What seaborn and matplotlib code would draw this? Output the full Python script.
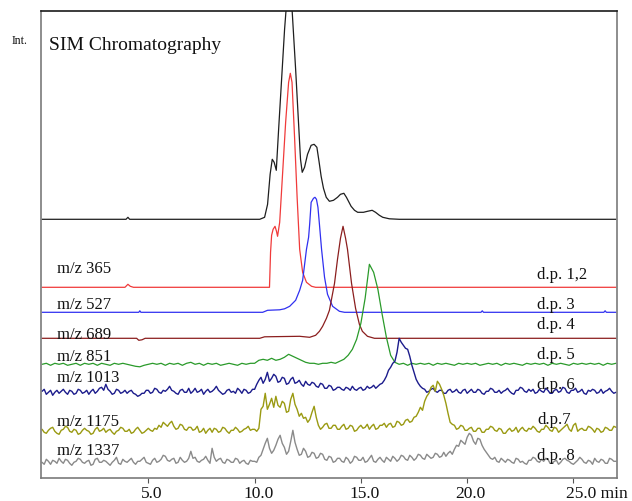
import numpy as np
import matplotlib
matplotlib.use("Agg")
import matplotlib.pyplot as plt
import matplotlib.transforms as mtransforms
import seaborn as sns

# ---------------- data (retention time in min, signal above each trace's baseline) -------------
black_t = [0.0, 3.95, 4.04, 4.12, 10.24, 10.47, 10.61, 10.73, 10.83, 10.92, 11.02, 11.13, 11.27,
           11.41, 11.5, 11.62, 11.72, 11.79, 11.93, 12.07, 12.16, 12.24, 12.35, 12.49, 12.66, 12.8,
           12.93, 13.03, 13.13, 13.24, 13.37, 13.52, 13.71, 13.9, 14.04, 14.2, 14.32, 14.54, 14.7,
           14.85, 15.12, 15.31, 15.53, 15.69, 15.87, 16.03, 16.34, 16.81, 27.0]
black_h = [0, 0, 2, 0, 0, 2, 15, 45, 60, 57, 49, 90, 140,
           190, 215, 240, 225, 200, 150, 95, 60, 47, 52, 65, 74, 75,
           72, 58, 43, 31, 22, 18, 19, 22, 25, 26, 22, 13, 9,
           7, 7, 8, 9, 7, 4, 2, 0.5, 0, 0]

red_t = [0.0, 3.9, 4.04, 4.15, 4.3, 10.7, 10.75, 10.8, 10.87, 10.96, 11.03, 11.08, 11.18, 11.32,
         11.46, 11.6, 11.68, 11.76, 11.88, 12.0, 12.12, 12.26, 12.44, 12.68, 12.87, 27.0]
red_h = [0, 0, 3, 1, 0, 0, 35, 52, 58, 61, 56, 51, 65, 115,
         165, 205, 214, 205, 150, 90, 38, 15, 5, 1, 0, 0]

blue_t = [0.0, 4.55, 4.6, 4.65, 10.38, 10.61, 11.18, 11.41, 11.65, 11.93, 12.12, 12.26, 12.44,
          12.54, 12.59, 12.66, 12.77, 12.84, 12.91, 12.98, 13.05, 13.15, 13.29, 13.43, 13.67,
          13.99, 14.23, 20.65, 20.71, 20.77, 26.43, 26.49, 26.55, 27.0]
blue_h = [0, 0, 1.5, 0, 0, 2, 2.5, 3.5, 6, 12, 22, 32, 63,
          75, 88, 110, 114, 115, 113, 105, 88, 63, 35, 18, 6,
          1, 0, 0, 1.5, 0, 0, 1.5, 0, 0]

brown_t = [0.0, 4.45, 4.55, 4.7, 4.85, 10.24, 10.47, 12.12, 12.59, 12.87, 13.05, 13.2, 13.38,
           13.52, 13.76, 13.9, 14.04, 14.16, 14.28, 14.37, 14.56, 14.75, 14.93, 15.07, 15.31,
           15.64, 27.0]
brown_h = [0, 0, -2, -1.5, 0, 0, 1.5, 2, 1, 3, 7, 12, 20,
           28, 55, 79, 100, 112, 100, 89, 55, 30, 14, 7, 2,
           0, 0]

# green trace sampled every 0.2 min (0.0 .. 27.0)
green_h = [0, 1, -1, 1, 0, 1, -1, 0, 1, -1,
           1, 0, 1, -1, 1, 0, -1, 1, 0, 1,
           0, -1, -2, -2.5, -1, 0, 1, 0, 1, -1,
           1, 0, 1, -1, 1, 2, 0, 1, -1, 1,
           0, 1, -1, 0, 1, 0, -1, 1, 0, 1,
           1, 4, 5, 4, 6, 4, 5, 7, 10, 8,
           6, 4, 2, 1, 1, 0, 1, 1, 2, 1,
           3, 5, 9, 15, 25, 41, 66, 100, 92, 75,
           50, 27, 9, 2, 0, 1, -1, 1, 0, 1,
           0, 1, -1, 1, 0, 1, 0, -1, 1, 0,
           1, 0, 1, -1, 0, 1, 0, 1, -1, 1,
           0, 1, 0, -1, 1, 0, 1, 0, 1, -1,
           1, 0, 1, 0, -1, 1, 0, 1, 0, 1,
           0, 1, -1, 1, 0, 1]

# noisy traces sampled every 0.1 min (0.0 .. 27.0), one row per minute
navy_h = [1, 3, -2, 0, 2, -3, 0, 2, -1, 1,
          3, 0, -2, 2, 1, -2, -1, 3, 2, -1,
          0, 2, -2, 1, 3, -1, 1, 4, 5, 2,
          8, 3, 1, -2, -1, 3, 2, -1, 0, 2,
          -1, 1, 2, -1, -2, -4, -3, -1, -1, 2,
          2, -1, 0, 4, 3, 0, -1, 2, 1, 3,
          6, 2, 1, -1, -2, 2, 3, 0, 0, 4,
          -1, 1, 4, 0, 1, 3, -2, 1, 3, 0,
          1, 3, 6, 2, 0, -2, -1, 2, 3, 0,
          1, -1, 4, 2, -1, 3, 2, -1, 0, 3,
          3, 8, 12, 15, 9, 13, 20, 11, 14, 18,
          16, 10, 11, 15, 14, 8, 9, 13, 15, 9,
          10, 12, 8, 6, 11, 8, 7, 10, 9, 6,
          5, 9, 8, 4, 4, 7, 6, 2, 3, 5,
          5, 3, 2, 5, 4, 2, 6, 3, 2, 4,
          5, 2, 3, 6, 4, 5, 7, 4, 6, 8,
          9, 12, 16, 22, 25, 29, 31, 40, 54, 50,
          47, 44, 43, 36, 27, 20, 13, 9, 6, 4,
          3, 0, 1, 3, 4, 1, 0, 2, 2, -1,
          -1, 2, 3, 0, 1, 3, 0, -1, 2, 3,
          -1, 1, 3, 0, 0, 3, 2, -1, -2, 1,
          1, 4, 3, 0, 0, 2, -1, 1, 2, 4,
          1, -1, -2, 2, 2, 5, 4, 1, 0, 3,
          1, 3, -1, 0, 3, 1, 0, 4, 2, -1,
          -1, 2, 3, 0, 1, 5, 4, 0, -1, 2,
          2, 4, 0, 1, 3, -1, -2, 2, 1, 3,
          2, -1, 0, 3, -1, 1, 2, 4, 1, -1,
          0]

olive_h = [2, -1, -2, 1, 3, 4, 0, -2, -3, 1,
           2, 5, 4, 0, -1, 2, 1, -3, -2, 1,
           3, 1, 0, -3, -2, 2, 4, 0, 1, 3,
           -1, 1, 2, -1, -3, 0, 1, 4, 3, 0,
           0, 2, -2, -1, 2, 4, 1, -2, -1, 1,
           3, 1, 0, 3, 2, 6, 4, 9, 7, 5,
           8, 10, 5, 2, 3, 7, 6, 2, 1, 4,
           4, 1, 2, 5, -1, 0, 3, -2, 1, 3,
           -1, 3, 2, -1, 0, 4, 3, 0, -2, 1,
           1, 4, 2, -1, 0, 2, 3, 5, 1, 2,
           2, 0, 3, 22, 25, 38, 22, 27, 33, 24,
           35, 26, 24, 30, 28, 19, 20, 32, 38, 27,
           22, 15, 18, 13, 14, 9, 12, 19, 25, 14,
           6, 2, 4, 7, 8, 3, 3, 6, 6, 2,
           2, 5, 7, 2, 3, 6, 5, 0, 1, 4,
           6, 3, 4, 7, 2, 5, 7, 2, 3, 6,
           6, 8, 4, 7, 8, 4, 5, 10, 9, 6,
           7, 11, 12, 9, 10, 14, 15, 19, 24, 21,
           30, 35, 38, 44, 46, 40, 50, 47, 42, 36,
           28, 18, 9, 7, 6, 2, 3, 6, 5, 1,
           1, 3, 4, 0, 0, 3, 3, -1, -1, 2,
           2, 5, 4, 1, 0, 3, 2, -2, -2, 1,
           3, 0, 1, 4, -1, 2, 4, 1, 0, 3,
           2, 5, 3, 0, -1, 2, 2, 6, 4, 1,
           0, 4, 3, -1, 1, 3, 5, 7, 2, 0,
           6, 8, 0, 2, 3, 1, 1, 5, 4, 2,
           -1, 3, 2, -1, 0, 4, 3, 1, 1, 5,
           4]

gray_h = [1, -1, 4, 2, -1, 3, 2, 0, 5, 2,
          0, 4, 3, 0, -2, 1, 2, 5, 4, 1,
          0, 2, 3, -2, -1, 4, 5, 1, 1, 3,
          2, 0, -2, 1, 3, 6, 0, -1, 4, 2,
          1, 3, 5, 1, -1, 2, 2, 4, 6, 1,
          0, -1, 3, 5, 1, 2, 4, 8, 7, 3,
          2, 4, 5, 0, 1, 6, 3, 1, 2, 5,
          12, 5, 6, 2, 1, 3, 4, 7, 3, 0,
          15, 6, 2, 4, 5, 1, 0, 4, 3, 1,
          1, 5, 4, 0, 2, 3, 0, -1, 3, 2,
          2, 1, 6, 8, 14, 20, 25, 15, 10, 13,
          18, 24, 28, 20, 16, 9, 12, 22, 33, 21,
          14, 8, 9, 15, 12, 6, 7, 11, 10, 5,
          6, 10, 9, 4, 3, 7, 6, 1, 2, 5,
          5, 2, 1, 6, 4, 0, 2, 7, 6, 3,
          3, 6, 1, 2, 5, 8, 2, 1, 4, 6,
          3, 1, 6, 4, 2, 7, 5, 2, 4, 8,
          7, 4, 3, 8, 6, 3, 5, 9, 8, 5,
          4, 9, 7, 5, 6, 10, 9, 6, 7, 11,
          7, 10, 12, 9, 14, 18, 17, 23, 21, 19,
          26, 30, 28, 22, 19, 25, 24, 18, 14, 11,
          8, 5, 4, 6, 2, 1, 5, 3, 1, 4,
          3, 1, 0, 5, 4, 1, 2, 0, -1, 3,
          3, 6, 5, 2, 1, 4, 2, 5, 4, 0,
          0, 2, 3, -1, 1, 4, 5, 3, 2, 0,
          -1, 1, 3, 6, 4, 1, 0, 3, 2, -1,
          5, 2, 1, 4, 3, 0, 0, 5, 4, 2,
          2]

mz_labels = ["m/z 365", "m/z 527", "m/z 689", "m/z 851", "m/z 1013", "m/z 1175", "m/z 1337"]
dp_labels = ["d.p. 1,2", "d.p. 3", "d.p. 4", "d.p. 5", "d.p. 6", "d.p.7", "d.p. 8"]
tick_vals = [5, 10, 15, 20, 25]
tick_labels = ["5.0", "10.0", "15.0", "20.0", "25.0 min"]

# ---------------- layout / style -------------
grid_02 = np.round(np.arange(len(green_h)) * 0.2, 1)
grid_01 = np.round(np.arange(len(navy_h)) * 0.1, 1)

sns.set_theme(style="white")
plt.rcParams['font.family'] = ['Liberation Serif', 'DejaVu Serif']

fig = plt.figure(figsize=(6.32, 5.02), dpi=100)
ax = fig.add_axes([41 / 632, (502 - 479.3) / 502, 576 / 632, 467.3 / 502])

traces = [
    (black_t, black_h, 259, '#1e1e1e', 0.9),
    (red_t, red_h, 191, '#f03a3a', 0.9),
    (blue_t, blue_h, 166, '#3030f0', 0.9),
    (brown_t, brown_h, 140, '#8b1e1e', 0.9),
    (grid_02, green_h, 114, '#2a9a2a', 0.9),
    (grid_01, navy_h, 86, '#1c1c8c', 1.0),
    (grid_01, olive_h, 47, '#9a9a12', 1.0),
    (grid_01, gray_h, 15, '#8a8a8a', 1.0),
]
for t, h, base, col, lw in traces:
    sns.lineplot(x=np.asarray(t, float), y=np.asarray(h, float) + base, color=col,
                 linewidth=lw, ax=ax, sort=False, estimator=None)

ax.set_xlim(-0.05, 27.05)
ax.set_ylim(0, 467.3)
ax.set_xlabel('')
ax.set_ylabel('')
ax.set_yticks([])
ax.set_xticks(tick_vals)
ax.set_xticklabels(tick_labels)
ax.tick_params(axis='x', bottom=True, direction='out', length=3.5, width=0.8,
               color='#555555', pad=1, labelsize=12.5, labelcolor='#111111')

offset = mtransforms.ScaledTranslation(3.5 / 100, 0, fig.dpi_scale_trans)
last_off = mtransforms.ScaledTranslation(-7 / 100, 0, fig.dpi_scale_trans)
labs = ax.get_xticklabels()
for lab in labs[:-1]:
    lab.set_transform(lab.get_transform() + offset)
labs[-1].set_horizontalalignment('left')
labs[-1].set_transform(labs[-1].get_transform() + last_off)

for name, sp in ax.spines.items():
    sp.set_visible(True)
    sp.set_linewidth(1.2)
    sp.set_color('#1a1a1a' if name == 'top' else '#7a7a7a')

mz_y = [206, 170, 140.5, 118.5, 97, 53, 24]
dp_y = [200, 170.5, 150.5, 120.5, 90.5, 55.5, 19]
for lab, y in zip(mz_labels, mz_y):
    ax.text(0.7, y, lab, fontsize=12, va='baseline', ha='left', color='#111111')
for lab, y in zip(dp_labels, dp_y):
    ax.text(23.3, y, lab, fontsize=12, va='baseline', ha='left', color='#111111')

ax.text(0.33, 429, 'SIM Chromatography', fontsize=14, va='baseline', ha='left', color='#111111')
fig.text(12 / 632, 1 - 44 / 502, 'Int.', fontsize=8.5, va='baseline', ha='left', color='#111111')

fig.savefig('out.png', dpi=100)
